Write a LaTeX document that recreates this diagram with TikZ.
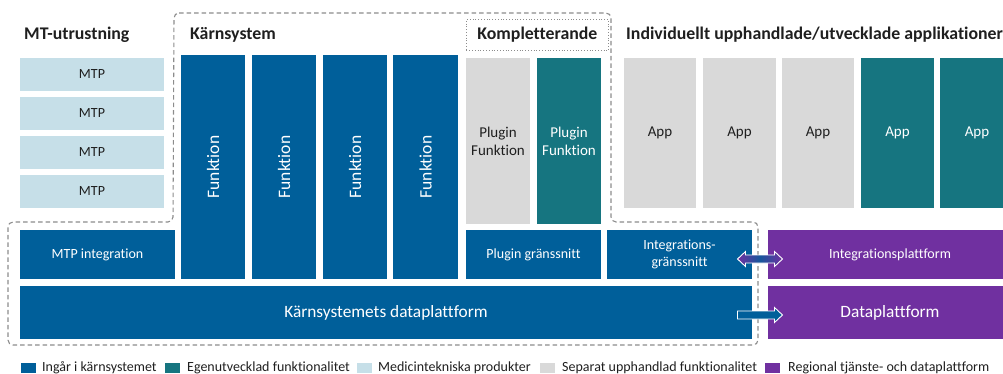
\documentclass[tikz,border=0pt]{standalone}
\usepackage{fontspec}
\setmainfont{Carlito}[Ligatures=CommonOff]
\usetikzlibrary{calc}
\definecolor{kblue}{HTML}{005F9A}
\definecolor{kteal}{HTML}{167580}
\definecolor{klight}{HTML}{C6DFE8}
\definecolor{kgray}{HTML}{D9D9D9}
\definecolor{kpurple}{HTML}{7030A0}
\definecolor{ktext}{HTML}{1F1F1F}
\definecolor{kdash}{HTML}{8C8C8C}
\newcommand\mybox[7]{\node[#6, minimum width={#4pt-#2pt}, minimum height={#5pt-#3pt}, anchor=north west] (#1) at (#2,#3) {#7};}
\begin{document}
\begin{tikzpicture}[x=1pt,y=-1pt,
  base/.style={inner sep=0pt, outer sep=0pt, draw=none, align=center},
  bluebox/.style={base, fill=kblue, text=white},
  tealbox/.style={base, fill=kteal, text=white},
  lightbox/.style={base, fill=klight, text=ktext},
  graybox/.style={base, fill=kgray, text=ktext},
  purplebox/.style={base, fill=kpurple, text=white},
  ttl/.style={font=\fontsize{17.8}{20}\selectfont\bfseries, text=ktext, inner sep=0pt},
  small/.style={font=\fontsize{14}{16.5}\selectfont},
  mid/.style={font=\fontsize{15}{18}\selectfont},
  big/.style={font=\fontsize{17.3}{20}\selectfont},
  vert/.style={label={[rotate=90, text=white, font=\fontsize{17.5}{20}\selectfont]center:Funktion}},
  legsq/.style={base, minimum width=15pt, minimum height=10pt, anchor=north west},
  legtx/.style={font=\fontsize{14}{16}\selectfont, text=ktext, anchor=west, inner sep=0pt},
  frame/.style={draw=kdash, dash pattern=on 4.5pt off 3pt, line width=1.1pt, rounded corners=5pt},
  blockarrow/.style={draw=white, line width=0.9pt, line join=miter},
]
\useasboundingbox (0,0) rectangle (1003,374);
% dashed frame of the core system
\draw[frame] (174,13) -- (611,13) -- (611,222) -- (758,222) -- (758,345) -- (8,345) -- (8,222) -- (173,222) -- cycle;
% titles
\node[ttl, anchor=west] (tmt) at (24,35) {MT-utrustning};
\node[ttl, anchor=west] (tks) at (190,35) {Kärnsystem};
\node[ttl, draw=kdash, dotted, line width=0.8pt, minimum width=142pt, minimum height=31pt, anchor=north west] (tko) at (466,19) {Kompletterande};
\node[ttl, anchor=west] (tia) at (626,35) {Individuellt upphandlade/utvecklade applikationer};
% MTP
\mybox{m1}{20}{58}{164}{91}{lightbox,small}{MTP}
\mybox{m2}{20}{97}{164}{130}{lightbox,small}{MTP}
\mybox{m3}{20}{136}{164}{169}{lightbox,small}{MTP}
\mybox{m4}{20}{175}{164}{208}{lightbox,small}{MTP}
% Funktion
\mybox{f1}{181}{55}{245}{279}{bluebox,vert}{}
\mybox{f2}{252}{55}{316}{279}{bluebox,vert}{}
\mybox{f3}{323}{55}{387}{279}{bluebox,vert}{}
\mybox{f4}{393}{55}{458}{279}{bluebox,vert}{}
% Plugins
\mybox{p1}{466}{58}{530}{224}{graybox,mid}{Plugin\\Funktion}
\mybox{p2}{537}{58}{601}{224}{tealbox,mid}{Plugin\\Funktion}
% Apps
\mybox{a1}{624}{58}{696}{208}{graybox,mid}{App}
\mybox{a2}{703}{58}{776}{208}{graybox,mid}{App}
\mybox{a3}{782}{58}{854}{208}{graybox,mid}{App}
\mybox{a4}{861}{58}{934}{208}{tealbox,mid}{App}
\mybox{a5}{940}{58}{1014}{208}{tealbox,mid}{App}
% lower row
\mybox{mi}{20}{230}{175}{279}{bluebox,small}{MTP integration}
\mybox{pg}{466}{230}{601}{279}{bluebox,small}{Plugin gränssnitt}
\mybox{ig}{607}{230}{752}{279}{bluebox,small}{Integrations-\\gränssnitt}
\mybox{kd}{20}{286}{752}{339}{bluebox,big}{Kärnsystemets dataplattform}
\mybox{ip}{768}{230}{1012}{279}{purplebox,small}{Integrationsplattform}
\mybox{dp}{768}{286}{1012}{339}{purplebox,big}{Dataplattform}
% arrows
\coordinate (c1) at ($(ig.east)!0.5!(ip.west)+(0,4.5)$);
\coordinate (c2) at ($(kd.east)!0.5!(dp.west)+(0,2.5)$);
\draw[blockarrow, left color=kpurple, right color=kpurple, middle color=kblue!80!kpurple]
  ($(c1)+(-22.5,0)$) -- ($(c1)+(-14.5,-7.5)$) -- ($(c1)+(-14.5,-4)$) -- ($(c1)+(14.5,-4)$) -- ($(c1)+(14.5,-7.5)$)
  -- ($(c1)+(22.5,0)$) -- ($(c1)+(14.5,7.5)$) -- ($(c1)+(14.5,4)$) -- ($(c1)+(-14.5,4)$) -- ($(c1)+(-14.5,7.5)$) -- cycle;
\draw[blockarrow, fill=kblue]
  ($(c2)+(-22.5,-4)$) -- ($(c2)+(14.5,-4)$) -- ($(c2)+(14.5,-7.5)$) -- ($(c2)+(22.5,0)$)
  -- ($(c2)+(14.5,7.5)$) -- ($(c2)+(14.5,4)$) -- ($(c2)+(-22.5,4)$) -- cycle;
% legend
\node[legsq, fill=kblue] (l1) at (21,363) {};
\node[legtx] (l1t) at (42,368) {Ingår i kärnsystemet};
\node[legsq, fill=kteal] (l2) at (165,363) {};
\node[legtx] (l2t) at (187,368) {Egenutvecklad funktionalitet};
\node[legsq, fill=klight] (l3) at (357,363) {};
\node[legtx] (l3t) at (378,368) {Medicintekniska produkter};
\node[legsq, fill=kgray] (l4) at (540,363) {};
\node[legtx] (l4t) at (562,368) {Separat upphandlad funktionalitet};
\node[legsq, fill=kpurple] (l5) at (765,363) {};
\node[legtx] (l5t) at (788,368) {Regional tjänste- och dataplattform};
\end{tikzpicture}
\end{document}
